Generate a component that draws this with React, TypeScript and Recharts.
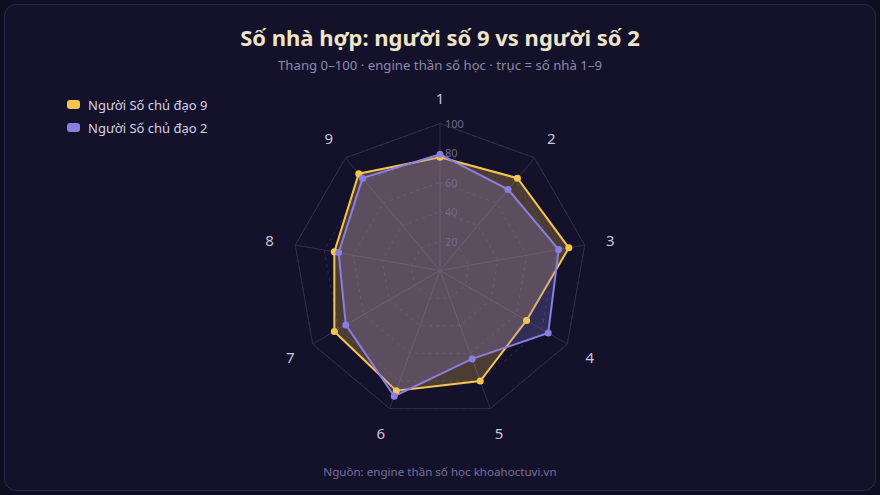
import { RadarChart, Radar, PolarGrid, PolarAngleAxis, PolarRadiusAxis, Legend } from "recharts";

const houses = ["1", "2", "3", "4", "5", "6", "7", "8", "9"];
const person9 = [77, 82, 89, 68, 80, 87, 83, 73, 86];
const person2 = [79, 72, 82, 85, 64, 91, 74, 70, 82];
const radiusTicks = [0, 20, 40, 60, 80, 100];

const seriesNames = ["Người Số chủ đạo 9", "Người Số chủ đạo 2"];
const YELLOW = "#f4c54f";
const PURPLE = "#8a7ee0";

const CX = 440;
const CY = 270.5;
const OUTER = 147;
const FONT = "'Noto Sans', 'Open Sans', sans-serif";

const data = houses.map((h, i) => ({ house: h, p9: person9[i], p2: person2[i] }));

const AngleTick = (props: any) => {
  const { x, y, payload } = props;
  const dx = x - CX;
  const dy = y - CY;
  const len = Math.sqrt(dx * dx + dy * dy) || 1;
  return (
    <text
      x={CX + (dx / len) * 173}
      y={CY + (dy / len) * 173}
      textAnchor="middle"
      dominantBaseline="central"
      fill="#c9c5dd"
      fontSize={15}
      fontFamily={FONT}
    >
      {payload.value}
    </text>
  );
};

const RadiusTick = (props: any) => {
  const { x, y, payload } = props;
  if (payload.value === 0) return null;
  return (
    <text x={x + 5} y={y} dominantBaseline="central" fill="#6f6b8e" fontSize={11} fontFamily={FONT}>
      {payload.value}
    </text>
  );
};

const LegendContent = (props: any) => {
  const items = [...props.payload].sort(
    (a: any, b: any) => seriesNames.indexOf(a.value) - seriesNames.indexOf(b.value)
  );
  return (
    <div style={{ fontFamily: FONT }}>
      {items.map((item: any) => (
        <div key={item.value} style={{ display: "flex", alignItems: "center", height: 23 }}>
          <span
            style={{
              width: 13,
              height: 9,
              borderRadius: 3,
              background: item.color,
              marginRight: 8,
              display: "inline-block",
            }}
          />
          <span style={{ color: "#d6d2e6", fontSize: 13 }}>{item.value}</span>
        </div>
      ))}
    </div>
  );
};

export default function App() {
  return (
    <div style={{ position: "fixed", left: 0, top: 0, width: 880, height: 495, background: "#0f0d22" }}>
      <div
        style={{
          position: "absolute",
          left: 4,
          top: 4,
          width: 870,
          height: 485,
          background: "#14112b",
          border: "1px solid #2b2947",
          borderRadius: 12,
        }}
      />
      <div
        style={{
          position: "absolute",
          left: 0,
          top: 22,
          width: 880,
          textAlign: "center",
          fontFamily: FONT,
          fontWeight: 700,
          fontSize: 22,
          color: "#efe4c6",
        }}
      >
        Số nhà hợp: người số 9 vs người số 2
      </div>
      <div
        style={{
          position: "absolute",
          left: 0,
          top: 56,
          width: 880,
          textAlign: "center",
          fontFamily: FONT,
          fontSize: 13.2,
          color: "#8e8aa8",
        }}
      >
        Thang 0–100 · engine thần số học · trục = số nhà 1–9
      </div>
      <div
        style={{
          position: "absolute",
          left: 0,
          top: 464,
          width: 880,
          textAlign: "center",
          fontFamily: FONT,
          fontSize: 11.6,
          color: "#75719a",
        }}
      >
        Nguồn: engine thần số học khoahoctuvi.vn
      </div>
      <div style={{ position: "absolute", left: 0, top: 0 }}>
        <RadarChart width={880} height={495} data={data} cx={CX} cy={CY} outerRadius={OUTER}>
          <PolarGrid gridType="polygon" radialLines={false} stroke="#2f2c4a" strokeDasharray="3 4" />
          <PolarGrid gridType="polygon" polarRadius={[OUTER]} stroke="#312e4d" />
          <PolarAngleAxis dataKey="house" tick={AngleTick} axisLine={false} tickLine={false} />
          <PolarRadiusAxis
            angle={90}
            domain={[0, 100]}
            ticks={radiusTicks}
            tick={RadiusTick}
            axisLine={false}
            tickLine={false}
          />
          <Radar
            name={seriesNames[0]}
            dataKey="p9"
            stroke={YELLOW}
            strokeWidth={2}
            fill={YELLOW}
            fillOpacity={0.25}
            dot={{ r: 3.5, fill: YELLOW, stroke: "none", fillOpacity: 1 }}
            isAnimationActive={false}
          />
          <Radar
            name={seriesNames[1]}
            dataKey="p2"
            stroke={PURPLE}
            strokeWidth={2}
            fill={PURPLE}
            fillOpacity={0.25}
            dot={{ r: 3.5, fill: PURPLE, stroke: "none", fillOpacity: 1 }}
            isAnimationActive={false}
          />
          <Legend
            layout="vertical"
            verticalAlign="top"
            align="left"
            content={LegendContent}
            wrapperStyle={{ left: 67, top: 93, width: 200 }}
          />
        </RadarChart>
      </div>
    </div>
  );
}
